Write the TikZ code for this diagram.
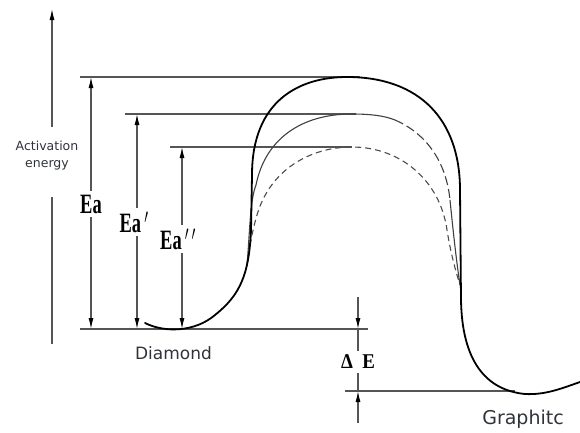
\documentclass[tikz,border=0pt]{standalone}
\usepackage{fontspec}
\usepackage{graphicx}
\usetikzlibrary{arrows.meta,calc}
\newfontfamily\labfont{DejaVu Sans}
\newfontfamily\cadfont{Liberation Serif}
\definecolor{linegray}{HTML}{555555}
\definecolor{textgray}{HTML}{30343A}
\begin{document}
\begin{tikzpicture}[x=1pt,y=-1pt,
  thinline/.style={draw=linegray,line width=1.1pt},
  dimarrow/.style={thinline,-{Latex[length=11pt,width=5pt,color=black]}},
  curvemain/.style={draw=black,line width=1.8pt,line cap=round},
  curvemid/.style={draw=black!75,line width=1.1pt},
  curvedash/.style={draw=black!70,line width=1.1pt,dash pattern=on 6pt off 4pt},
  cadlab/.style={fill=white,inner xsep=1pt,inner ysep=4pt,text=black},
  sanslab/.style={text=textgray,inner sep=0pt}]
\useasboundingbox (0,0) rectangle (580,432);

% coordinates
\coordinate (axbot) at (52,344);
\coordinate (axlow) at (52,197);
\coordinate (axhigh) at (52,127);
\coordinate (axtop) at (52,9);

\coordinate (eaL) at (80,77);    \coordinate (eaR) at (360,77);
\coordinate (ea1L) at (125,114); \coordinate (ea1R) at (356,114);
\coordinate (ea2L) at (170,147); \coordinate (ea2R) at (352,147);
\coordinate (baseL) at (80,329); \coordinate (baseR) at (368,329);
\coordinate (lowL) at (345,391); \coordinate (lowR) at (515,391);

\coordinate (eaT) at (91,77);    \coordinate (eaB) at (91,329);
\coordinate (ea1T) at (137,114); \coordinate (ea1B) at (137,329);
\coordinate (ea2T) at (182,147); \coordinate (ea2B) at (182,329);

\coordinate (deTop) at (358,297); \coordinate (deA) at (358,329);
\coordinate (deB) at (358,391);   \coordinate (deBot) at (358,423);

% axis
\draw[dimarrow] (axhigh) -- (axtop);
\draw[thinline] (axlow) -- (axbot);
\node[sanslab,align=center,font=\labfont\fontsize{12.5}{17}\selectfont] (actlab) at (47,156) {Activation\\energy};

% horizontal reference lines
\draw[thinline] (eaL) -- (eaR);
\draw[thinline] (ea1L) -- (ea1R);
\draw[thinline] (ea2L) -- (ea2R);
\draw[thinline] (baseL) -- (baseR);
\draw[thinline] (lowL) -- (lowR);

% dimension arrows
\draw[dimarrow] ($(eaT)!0.5!(eaB)$) -- (eaT);
\draw[dimarrow] ($(eaT)!0.5!(eaB)$) -- (eaB);
\draw[dimarrow] ($(ea1T)!0.5!(ea1B)$) -- (ea1T);
\draw[dimarrow] ($(ea1T)!0.5!(ea1B)$) -- (ea1B);
\draw[dimarrow] ($(ea2T)!0.5!(ea2B)$) -- (ea2T);
\draw[dimarrow] ($(ea2T)!0.5!(ea2B)$) -- (ea2B);

\draw[dimarrow] (deTop) -- (deA);
\draw[thinline] (deA) -- (deB);
\draw[dimarrow] (deBot) -- (deB);

% labels on dimension lines
\node[cadlab,font=\cadfont\bfseries\fontsize{28}{28}\selectfont] (ealab) at (91,204) {\scalebox{0.66}[1]{Ea}};
\node[cadlab,font=\cadfont\bfseries\fontsize{28}{28}\selectfont] (ea1lab) at (134,222) {\scalebox{0.66}[1]{Ea\,$'$}};
\node[cadlab,font=\cadfont\bfseries\fontsize{28}{28}\selectfont] (ea2lab) at (178,239) {\scalebox{0.66}[1]{Ea\,$'\,'$}};
\node[cadlab,font=\cadfont\bfseries\fontsize{21}{21}\selectfont] (delab) at (358,362) {\scalebox{0.9}[1]{Δ\ \ E}};

% curves
\draw[curvedash] (247,265) .. controls (250,245) and (252,232) .. (257,215)
  .. controls (270,170) and (310,147) .. (352,147)
  .. controls (400,147) and (440,180) .. (447,230)
  .. controls (451,255) and (456,272) .. (460,285);
\draw[curvemid] (247,265) .. controls (250,230) and (250,200) .. (256,185)
  .. controls (265,140) and (300,114) .. (352,114)
  .. controls (372,114) and (385,116) .. (395,120);
\draw[curvemid,dash pattern=on 9pt off 4pt] (395,120) .. controls (425,133) and (446,160) .. (450,200);
\draw[curvemid] (450,200) .. controls (454,240) and (457,265) .. (460,285);
\draw[curvemain] (145,323) .. controls (165,333) and (195,332) .. (215,315)
  .. controls (240,295) and (249,275) .. (251,230)
  -- (252,175)
  .. controls (252,100) and (300,77) .. (347,77)
  .. controls (420,77) and (460,120) .. (460,190)
  -- (461,300)
  .. controls (462,360) and (485,390) .. (525,394)
  .. controls (545,395) and (560,389) .. (580,382);

% state labels
\node[sanslab,font=\labfont\fontsize{17}{17}\selectfont] (diamond) at (173.5,353) {Diamond};
\node[sanslab,font=\labfont\fontsize{19}{19}\selectfont] (graphite) at (523,419) {Graphitc};
\end{tikzpicture}
\end{document}
